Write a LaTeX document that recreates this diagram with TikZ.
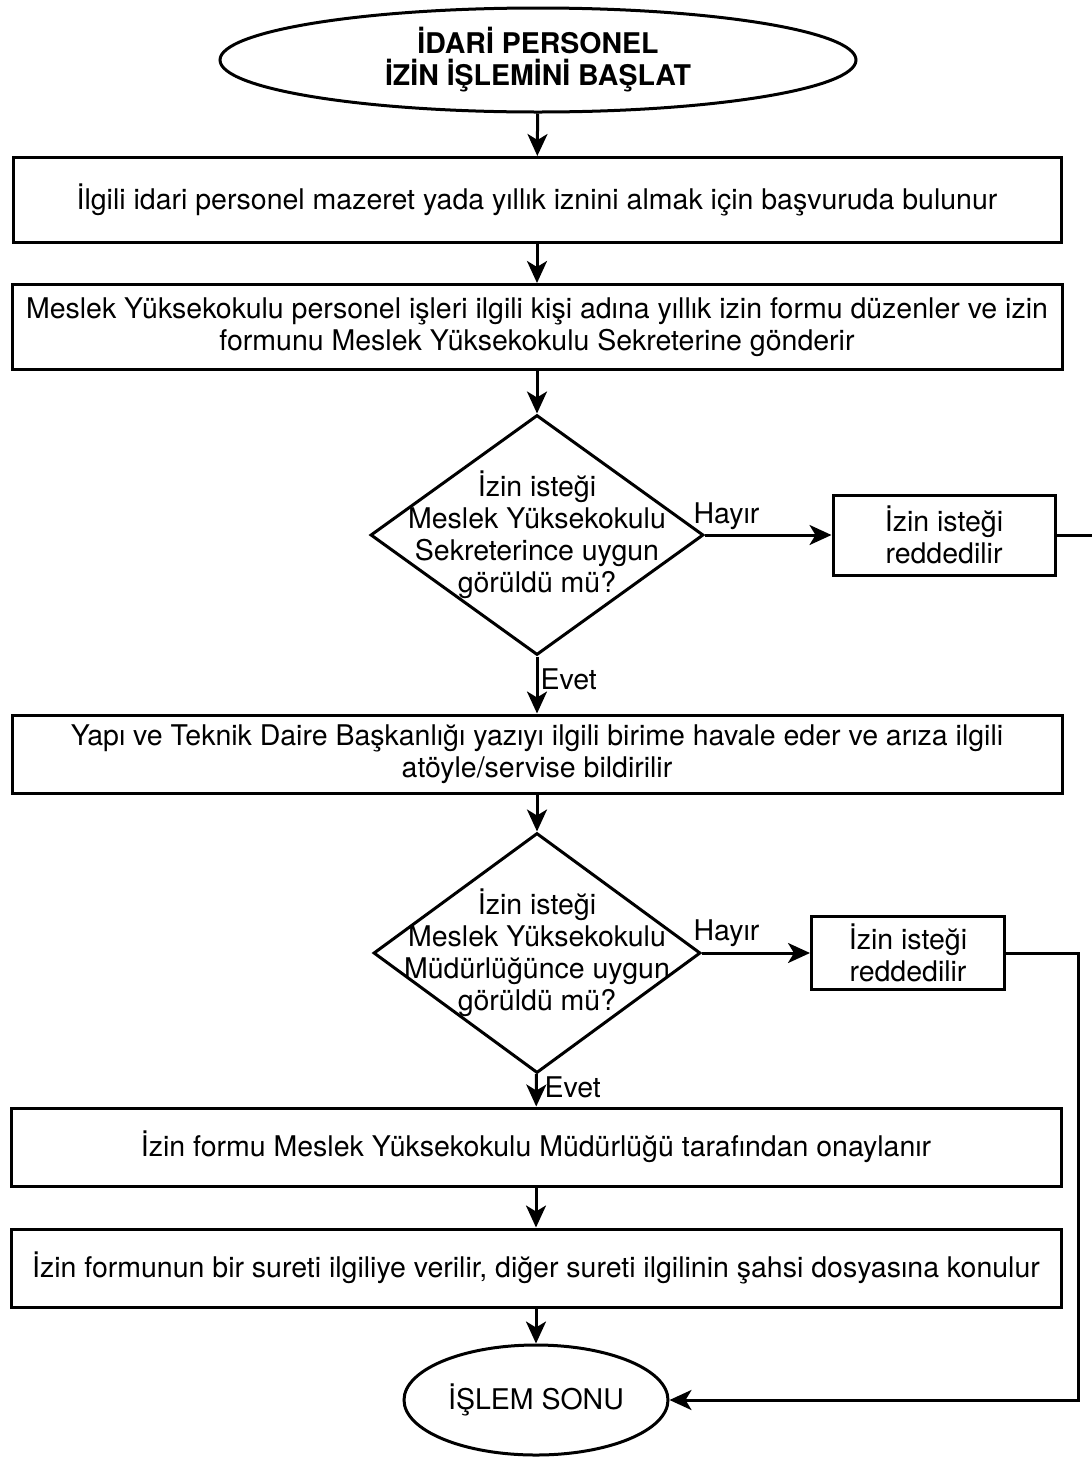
\documentclass[tikz,border=0pt]{standalone}
\usepackage{fontspec}
\setmainfont{TeX Gyre Heros}
\usetikzlibrary{shapes.geometric}
\usetikzlibrary{arrows.meta}

\begin{document}
\begin{tikzpicture}[x=1pt,y=-1pt,
  every node/.style={font=\fontsize{28.5}{32}\selectfont},
  box/.style={draw,rectangle,line width=3pt,inner sep=0pt,align=center},
  oval/.style={draw,ellipse,line width=3pt,inner sep=0pt,align=center},
  decision/.style={draw,diamond,line width=3pt,inner sep=0pt},
  arr/.style={line width=3pt,-{Stealth[length=22pt,width=20pt,inset=6pt]}},
  plain/.style={line width=3pt}]
  \useasboundingbox (0,0) rectangle (1092,1457);

  \node[oval,minimum width=636pt,minimum height=104pt] (start) at (538,60)
    {\bfseries İDARİ PERSONEL\\\bfseries İZİN İŞLEMİNİ BAŞLAT};
  \node[box,minimum width=1048pt,minimum height=85pt] (apply) at (537,200)
    {İlgili idari personel mazeret yada yıllık iznini almak için başvuruda bulunur};
  \node[box,minimum width=1050pt,minimum height=85pt] (form) at (537,327)
    {Meslek Yüksekokulu personel işleri ilgili kişi adına yıllık izin formu düzenler ve izin\\formunu Meslek Yüksekokulu Sekreterine gönderir};
  \node[decision,minimum width=333pt,minimum height=240pt,
    label={[align=center]center:İzin isteği\\Meslek Yüksekokulu\\Sekreterince uygun\\görüldü mü?}]
    (secr) at (537,535) {};
  \node[box,minimum width=222pt,minimum height=80pt] (rejecta) at (944,535)
    {İzin isteği\\reddedilir};
  \node[box,minimum width=1050pt,minimum height=78pt] (dept) at (537,754)
    {Yapı ve Teknik Daire Başkanlığı yazıyı ilgili birime havale eder ve arıza ilgili\\atöyle/servise bildirilir};
  \node[decision,minimum width=327pt,minimum height=240pt,
    label={[align=center]center:İzin isteği\\Meslek Yüksekokulu\\Müdürlüğünce uygun\\görüldü mü?}]
    (dir) at (537,953) {};
  \node[box,minimum width=193pt,minimum height=73pt] (rejectb) at (908,953)
    {İzin isteği\\reddedilir};
  \node[box,minimum width=1050pt,minimum height=78pt] (approve) at (536,1147)
    {İzin formu Meslek Yüksekokulu Müdürlüğü tarafından onaylanır};
  \node[box,minimum width=1050pt,minimum height=78pt] (copy) at (536,1268)
    {İzin formunun bir sureti ilgiliye verilir, diğer sureti ilgilinin şahsi dosyasına konulur};
  \node[oval,minimum width=264pt,minimum height=110pt] (finish) at (536,1400)
    {İŞLEM SONU};

  \node[anchor=west] (noa) at (690,516) {Hayır};
  \node[anchor=west] (yesa) at (537,679) {Evet};
  \node[anchor=west] (nob) at (690,933) {Hayır};
  \node[anchor=west] (yesb) at (541,1087) {Evet};

  \coordinate (edge) at (1092,535);
  \coordinate (turn) at (1078,1400);

  \draw[arr] (start) -- (apply);
  \draw[arr] (apply) -- (form);
  \draw[arr] (form) -- (secr);
  \draw[arr] (secr) -- (rejecta);
  \draw[plain] (rejecta) -- (edge);
  \draw[arr] (secr) -- (dept);
  \draw[arr] (dept) -- (dir);
  \draw[arr] (dir) -- (rejectb);
  \draw[arr] (rejectb.east) -| (turn) -- (finish.east);
  \draw[arr] (dir) -- (approve);
  \draw[arr] (approve) -- (copy);
  \draw[arr] (copy) -- (finish);
\end{tikzpicture}
\end{document}
